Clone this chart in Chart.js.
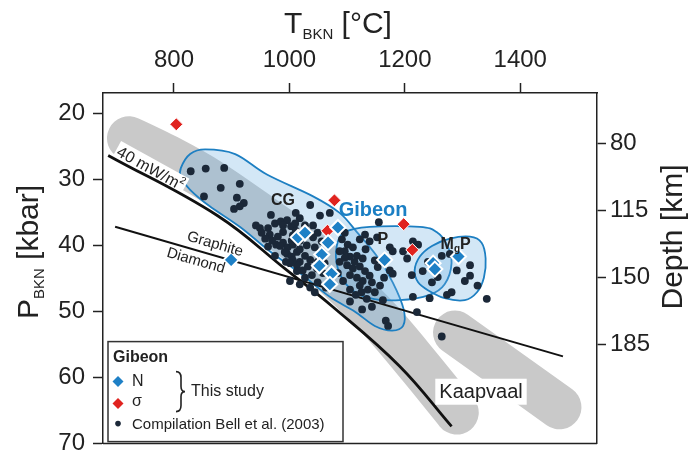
<!DOCTYPE html>
<html>
<head>
<meta charset="utf-8">
<title>P-T Gibeon</title>
<script src="https://cdn.jsdelivr.net/npm/chart.js@4.4.0/dist/chart.umd.min.js"></script>
<style>
    html, body { margin: 0; padding: 0; background: #fff; }
    #wrap { width: 695px; height: 466px; }
</style>
</head>
<body>
<div id="wrap"><canvas id="ptChart" width="695" height="466"></canvas></div>
<script>
const FONT = '"Liberation Sans", Arial, Helvetica, sans-serif';

// Axis ticks
const tTicks = [800, 1000, 1200, 1400];
const pTicks = [20, 30, 40, 50, 60, 70];
const depthTicks = [80, 115, 150, 185];

// Compilation Bell et al. (2003), [T degC, P kbar]
const bellPoints = [
    [829, 28.8], [855, 28.4], [887, 28.3], [914, 30.7], [881, 31.3], [852, 32.6], [909, 32.8],
    [921, 33.6], [914, 34.1], [904, 34.5], [968, 35.4], [1036, 33.9], [1070, 35.1], [1155, 36.5],
    [949, 37.4], [963, 37.4], [975, 36.7], [985, 36.4], [996, 36.2], [1003, 37.1], [989, 38.0],
    [980, 38.7], [966, 38.4], [958, 39.0], [989, 39.6], [997, 40.3], [1006, 39.9], [996, 41.3],
    [1004, 41.7], [1013, 41.0], [1018, 42.5], [1027, 41.6], [1036, 42.2], [1044, 40.3], [1041, 38.8],
    [1032, 38.0], [1041, 37.0], [1023, 38.0], [1006, 38.5], [1018, 39.3], [1030, 40.0], [1048, 43.5],
    [1039, 44.5], [1023, 43.8], [1013, 43.0], [1006, 42.3], [1001, 45.4], [1018, 35.9], [1011, 37.8],
    [1056, 41.6], [1061, 42.7], [1036, 46.4], [977, 39.9],
    [942, 37.0], [952, 38.1], [970, 39.3], [984, 40.1], [992, 41.0], [1001, 42.7], [1013, 43.9],
    [1027, 44.9], [1049, 45.6], [1058, 44.2], [1063, 46.4], [1044, 47.1], [1018, 45.9], [989, 37.0],
    [1010, 36.7], [1027, 37.0], [1049, 38.1], [1056, 39.4], [1049, 42.5], [1032, 43.2], [1018, 40.6],
    [1004, 39.3], [994, 42.5], [975, 41.6], [963, 40.2], [1053, 35.5], [1011, 35.1],
    [1096, 38.1], [1091, 39.1], [1101, 39.9], [1110, 40.3], [1096, 40.9], [1105, 41.7], [1117, 41.6],
    [1127, 42.0], [1100, 43.0], [1110, 43.5], [1122, 43.2], [1131, 43.9], [1105, 44.5], [1117, 44.9],
    [1127, 45.4], [1139, 44.6], [1122, 46.1], [1136, 46.7], [1105, 46.7], [1093, 45.4], [1084, 44.2],
    [1087, 42.5], [1148, 47.1], [1134, 48.1], [1148, 42.3], [1139, 39.4], [1131, 38.4], [1152, 38.8],
    [1122, 39.1], [1096, 41.9], [1113, 42.5], [1125, 47.1], [1115, 47.5], [1143, 45.6], [1157, 46.1],
    [1087, 40.9], [1132, 40.6], [1153, 43.3], [1164, 44.9], [1105, 48.5], [1126, 49.7],
    [1167, 51.4], [1171, 52.2], [1214, 39.4], [1223, 39.9], [1197, 40.9], [1204, 42.0], [1174, 43.8],
    [1179, 44.3], [1212, 44.5], [1231, 43.9], [1247, 45.6], [1278, 41.3], [1290, 43.8], [1313, 43.0],
    [1313, 44.6], [1304, 45.4], [1281, 47.1], [1273, 47.5], [1326, 46.1], [1342, 48.1], [1214, 47.8],
    [1243, 48.0], [1221, 50.1], [1264, 53.8], [1264, 41.6], [1240, 42.5], [1257, 44.8], [1174, 40.3],
    [1179, 40.9], [1162, 48.3], [1143, 49.3]
];

// This study: Gibeon N and sigma
const gibeonN = [
    [899, 42.2], [1015, 38.8], [1027, 38.1], [1084, 37.3], [1067, 39.6], [1056, 41.4], [1052, 43.1],
    [1073, 44.3], [1070, 45.9], [1165, 42.2], [1249, 42.7], [1252, 43.6], [1293, 41.7]
];
const gibeonSigma = [[804, 21.7], [1078, 33.2], [1066, 37.8], [1198, 36.8], [1213, 40.7]];

// 40 mW/m2 geotherm and graphite-diamond transition
const geotherm = [[686, 26.4], [875, 35.5], [996, 43.8], [1075, 49.3], [1191, 58.3], [1281, 67.4]];
const graphiteDiamond = [[698, 37.2], [1474, 56.8]];

// Kaapvaal fields (centre lines of the grey bands)
const kaapvaalUpper = [[722, 23.8], [793, 26.8], [862, 30.2], [949, 35.4], [1018, 39.8],
    [1087, 45.2], [1157, 51.3], [1226, 58.4], [1290, 65.3]];
const kaapvaalLower = [[1287, 53.2], [1468, 64.5]];

// Gibeon xenolith envelopes
const envCG = [[812, 28.3], [828, 26.2], [854, 25.5], [906, 26.2], [961, 29.3], [1041, 32.6],
    [1087, 35.1], [1117, 38.0], [1152, 41.7], [1179, 45.6], [1198, 49.7], [1197, 52.2], [1178, 52.9],
    [1148, 52.2], [1113, 50.0], [1070, 47.8], [1018, 44.2], [966, 40.9], [914, 37.2], [862, 34.1],
    [828, 31.6], [812, 29.7]];
const envP = [[1096, 38.0], [1139, 37.2], [1226, 37.2], [1255, 38.0], [1273, 39.9], [1281, 42.7],
    [1269, 45.9], [1243, 47.5], [1191, 48.3], [1139, 48.0], [1105, 46.5], [1084, 43.5], [1082, 40.1]];
const envMgP = [[1217, 43.8], [1226, 41.7], [1247, 40.1], [1278, 39.0], [1313, 38.7], [1333, 39.6],
    [1340, 42.0], [1337, 44.9], [1325, 47.1], [1304, 48.3], [1269, 48.0], [1240, 46.8], [1223, 45.6]];

const toXY = arr => arr.map(d => ({ x: d[0], y: d[1] }));

function pix(chart, d) {
    return [chart.scales.x.getPixelForValue(d[0]), chart.scales.y.getPixelForValue(d[1])];
}

// catmull-rom through points, closed or open
function curvePath(ctx, pts, closed) {
    const n = pts.length;
    const at = i => closed ? pts[(i + n) % n] : pts[Math.max(0, Math.min(n - 1, i))];
    ctx.moveTo(pts[0][0], pts[0][1]);
    const last = closed ? n : n - 1;
    for (let i = 0; i < last; i++) {
        const p0 = at(i - 1), p1 = at(i), p2 = at(i + 1), p3 = at(i + 2);
        ctx.bezierCurveTo(
            p1[0] + (p2[0] - p0[0]) / 6, p1[1] + (p2[1] - p0[1]) / 6,
            p2[0] - (p3[0] - p1[0]) / 6, p2[1] - (p3[1] - p1[1]) / 6,
            p2[0], p2[1]);
    }
    if (closed) ctx.closePath();
}

function rotatedLabel(ctx, parts, x, y, angle, box) {
    ctx.save();
    ctx.translate(x, y);
    ctx.rotate(angle);
    let total = 0;
    parts.forEach(p => {
        ctx.font = (p.bold ? 'bold ' : '') + p.size + 'px ' + FONT;
        p.w = ctx.measureText(p.text).width;
        total += p.w;
    });
    if (box) {
        ctx.fillStyle = '#fff';
        ctx.fillRect(-total / 2 - box.px, -box.up, total + box.px * 2, box.up + box.down);
    }
    let cx = -total / 2;
    ctx.textBaseline = 'alphabetic';
    ctx.textAlign = 'left';
    parts.forEach(p => {
        ctx.font = (p.bold ? 'bold ' : '') + p.size + 'px ' + FONT;
        ctx.fillStyle = p.color || '#222';
        ctx.fillText(p.text, cx, p.dy || 0);
        cx += p.w;
    });
    ctx.restore();
}

const backdrop = {
    id: 'backdrop',
    beforeDatasetsDraw(chart) {
        const ctx = chart.ctx;
        const a = chart.chartArea;
        ctx.save();
        ctx.beginPath();
        ctx.rect(a.left, a.top, a.right - a.left, a.bottom - a.top);
        ctx.clip();

        // grey Kaapvaal bands
        ctx.strokeStyle = '#c9c9c9';
        ctx.lineWidth = 44;
        ctx.lineCap = 'round';
        ctx.lineJoin = 'round';
        [kaapvaalUpper, kaapvaalLower].forEach(band => {
            ctx.beginPath();
            curvePath(ctx, band.map(d => pix(chart, d)), false);
            ctx.stroke();
        });

        // envelopes
        [envCG, envP, envMgP].forEach(env => {
            ctx.beginPath();
            curvePath(ctx, env.map(d => pix(chart, d)), true);
            ctx.fillStyle = 'rgba(110, 175, 225, 0.3)';
            ctx.fill();
            ctx.lineWidth = 1.8;
            ctx.strokeStyle = '#1d7fc2';
            ctx.stroke();
        });

        // geotherm label sits on a white box
        const g0 = pix(chart, geotherm[0]), g1 = pix(chart, geotherm[1]);
        const ang = Math.atan2(g1[1] - g0[1], g1[0] - g0[0]);
        const lp = pix(chart, [755, 28.3]);
        rotatedLabel(ctx, [
            { text: '40 mW/m', size: 16 },
            { text: '2', size: 10, dy: -7 }
        ], lp[0], lp[1] + 5, ang, { px: 2, up: 15, down: 4 });
        ctx.restore();
    },
    afterDatasetsDraw(chart) {
        const ctx = chart.ctx;
        const a = chart.chartArea;
        const P = d => pix(chart, d);

        // in-plot labels
        ctx.save();
        ctx.textAlign = 'center';
        ctx.textBaseline = 'middle';
        ctx.fillStyle = '#222';
        ctx.font = 'bold 16px ' + FONT;
        let q = P([989, 33.3]); ctx.fillText('CG', q[0], q[1]);
        q = P([1162, 39.1]); ctx.fillText('P', q[0], q[1]);
        ctx.restore();

        q = P([1288, 39.6]);
        rotatedLabel(ctx, [
            { text: 'M', size: 16, bold: true },
            { text: 'g', size: 10, bold: true, dy: 3 },
            { text: 'P', size: 16, bold: true }
        ], q[0], q[1] + 6, 0);

        q = P([1145, 34.5]);
        rotatedLabel(ctx, [{ text: 'Gibeon', size: 20, bold: true, color: '#1b7fc4' }], q[0], q[1] + 7, 0);

        const d0 = P(graphiteDiamond[0]), d1 = P(graphiteDiamond[1]);
        const gAng = Math.atan2(d1[1] - d0[1], d1[0] - d0[0]);
        q = P([869, 39.7]);
        rotatedLabel(ctx, [{ text: 'Graphite', size: 15 }], q[0], q[1] + 5, gAng);
        q = P([836, 42.2]);
        rotatedLabel(ctx, [{ text: 'Diamond', size: 15 }], q[0], q[1] + 5, gAng);

        q = P([1332, 62.0]);
        rotatedLabel(ctx, [{ text: 'Kaapvaal', size: 20 }], q[0], q[1] + 7, 0, { px: 4, up: 19, down: 7 });

        // legend box
        const lx = a.left + 5, ly = a.bottom - 102;
        ctx.save();
        ctx.fillStyle = '#fff';
        ctx.fillRect(lx, ly, 235, 100);
        ctx.strokeStyle = '#333';
        ctx.lineWidth = 1.5;
        ctx.strokeRect(lx, ly, 235, 100);
        ctx.textBaseline = 'middle';
        ctx.textAlign = 'left';
        ctx.fillStyle = '#222';
        ctx.font = 'bold 16px ' + FONT;
        ctx.fillText('Gibeon', lx + 5, ly + 16);
        ctx.font = '16px ' + FONT;
        ctx.fillText('N', lx + 24, ly + 40);
        ctx.fillText('\u03c3', lx + 24, ly + 60);
        ctx.font = '15px ' + FONT;
        ctx.fillText('Compilation Bell et al. (2003)', lx + 24, ly + 83);
        ctx.font = '16px ' + FONT;
        ctx.fillText('This study', lx + 83, ly + 50);
        const diamond = (x, y, r, c) => {
            ctx.beginPath();
            ctx.moveTo(x, y - r); ctx.lineTo(x + r, y); ctx.lineTo(x, y + r); ctx.lineTo(x - r, y);
            ctx.closePath();
            ctx.fillStyle = c;
            ctx.fill();
        };
        diamond(lx + 10, ly + 40, 5.5, '#1e80c6');
        diamond(lx + 10, ly + 62, 5.5, '#e0231f');
        ctx.beginPath();
        ctx.arc(lx + 10, ly + 82, 2.8, 0, Math.PI * 2);
        ctx.fillStyle = '#1b2838';
        ctx.fill();
        // brace
        const bx = lx + 68, by0 = ly + 30, by1 = ly + 70, bm = (by0 + by1) / 2;
        ctx.beginPath();
        ctx.moveTo(bx, by0);
        ctx.quadraticCurveTo(bx + 5, by0, bx + 5, by0 + 6);
        ctx.lineTo(bx + 5, bm - 5);
        ctx.quadraticCurveTo(bx + 5, bm, bx + 9, bm);
        ctx.quadraticCurveTo(bx + 5, bm, bx + 5, bm + 5);
        ctx.lineTo(bx + 5, by1 - 6);
        ctx.quadraticCurveTo(bx + 5, by1, bx, by1);
        ctx.strokeStyle = '#222';
        ctx.lineWidth = 1.6;
        ctx.stroke();
        ctx.restore();

        // bottom frame line
        ctx.save();
        ctx.strokeStyle = '#222';
        ctx.lineWidth = 1.5;
        ctx.beginPath();
        ctx.moveTo(a.left, a.bottom);
        ctx.lineTo(a.right, a.bottom);
        ctx.stroke();
        ctx.restore();
    },
    afterDraw(chart) {
        const ctx = chart.ctx;
        rotatedLabel(ctx, [
            { text: 'T', size: 30 },
            { text: 'BKN', size: 15, dy: 6 },
            { text: ' [\u00b0C]', size: 30 }
        ], 338, 33, 0);
        rotatedLabel(ctx, [
            { text: 'P', size: 30 },
            { text: 'BKN', size: 15, dy: 6 },
            { text: ' [kbar]', size: 30 }
        ], 38, 252, -Math.PI / 2);
        rotatedLabel(ctx, [{ text: 'Depth [km]', size: 30 }], 682, 237, -Math.PI / 2);
    }
};

const tickFont = { family: FONT, size: 24 };
const plain = v => String(v);

new Chart(document.getElementById('ptChart'), {
    type: 'scatter',
    data: {
        datasets: [
            {
                label: 'N',
                data: toXY(gibeonN),
                pointStyle: 'rectRot',
                pointRadius: 7.5,
                backgroundColor: '#1e80c6',
                borderColor: '#fff',
                borderWidth: 2,
                order: 1
            },
            {
                label: '\u03c3',
                data: toXY(gibeonSigma),
                pointStyle: 'rectRot',
                pointRadius: 6.5,
                backgroundColor: '#e0231f',
                borderColor: '#fff',
                borderWidth: 1,
                order: 2
            },
            {
                label: 'Compilation Bell et al. (2003)',
                data: toXY(bellPoints),
                pointRadius: 3.9,
                backgroundColor: '#1b2838',
                borderWidth: 0,
                order: 3
            },
            {
                type: 'line',
                label: '40 mW/m2',
                data: toXY(geotherm),
                showLine: true,
                borderColor: '#111',
                borderWidth: 2.8,
                pointRadius: 0,
                tension: 0.4,
                order: 4
            },
            {
                type: 'line',
                label: 'Graphite-Diamond',
                data: toXY(graphiteDiamond),
                showLine: true,
                borderColor: '#111',
                borderWidth: 2,
                pointRadius: 0,
                order: 5
            }
        ]
    },
    options: {
        responsive: false,
        devicePixelRatio: 1,
        animation: false,
        events: [],
        layout: { padding: { top: 0, left: 0, right: 0, bottom: 7 } },
        plugins: { legend: { display: false }, tooltip: { enabled: false } },
        scales: {
            x: {
                type: 'linear',
                position: 'top',
                min: 677,
                max: 1533,
                afterBuildTicks: s => { s.ticks = tTicks.map(v => ({ value: v })); },
                afterFit: s => { s.height = 93; },
                grid: { drawOnChartArea: false, tickLength: 10, tickWidth: 1.5, tickColor: '#222' },
                border: { display: true, color: '#222', width: 1.5 },
                ticks: { font: tickFont, color: '#222', padding: 8, maxRotation: 0, callback: plain }
            },
            y: {
                type: 'linear',
                position: 'left',
                reverse: true,
                min: 16.96,
                max: 70,
                afterBuildTicks: s => { s.ticks = pTicks.map(v => ({ value: v })); },
                afterFit: s => { s.width = 103; },
                grid: { drawOnChartArea: false, tickLength: 10, tickWidth: 1.5, tickColor: '#222' },
                border: { display: true, color: '#222', width: 1.5 },
                ticks: { font: tickFont, color: '#222', padding: 8, callback: plain }
            },
            y2: {
                type: 'linear',
                position: 'right',
                reverse: true,
                min: 53.4,
                max: 237.2,
                afterBuildTicks: s => { s.ticks = depthTicks.map(v => ({ value: v })); },
                afterFit: s => { s.width = 98; },
                grid: { drawOnChartArea: false, tickLength: 9, tickWidth: 1.5, tickColor: '#222' },
                border: { display: true, color: '#222', width: 1.5 },
                ticks: { font: tickFont, color: '#222', padding: 4, callback: plain }
            }
        }
    },
    plugins: [backdrop]
});
</script>
</body>
</html>
